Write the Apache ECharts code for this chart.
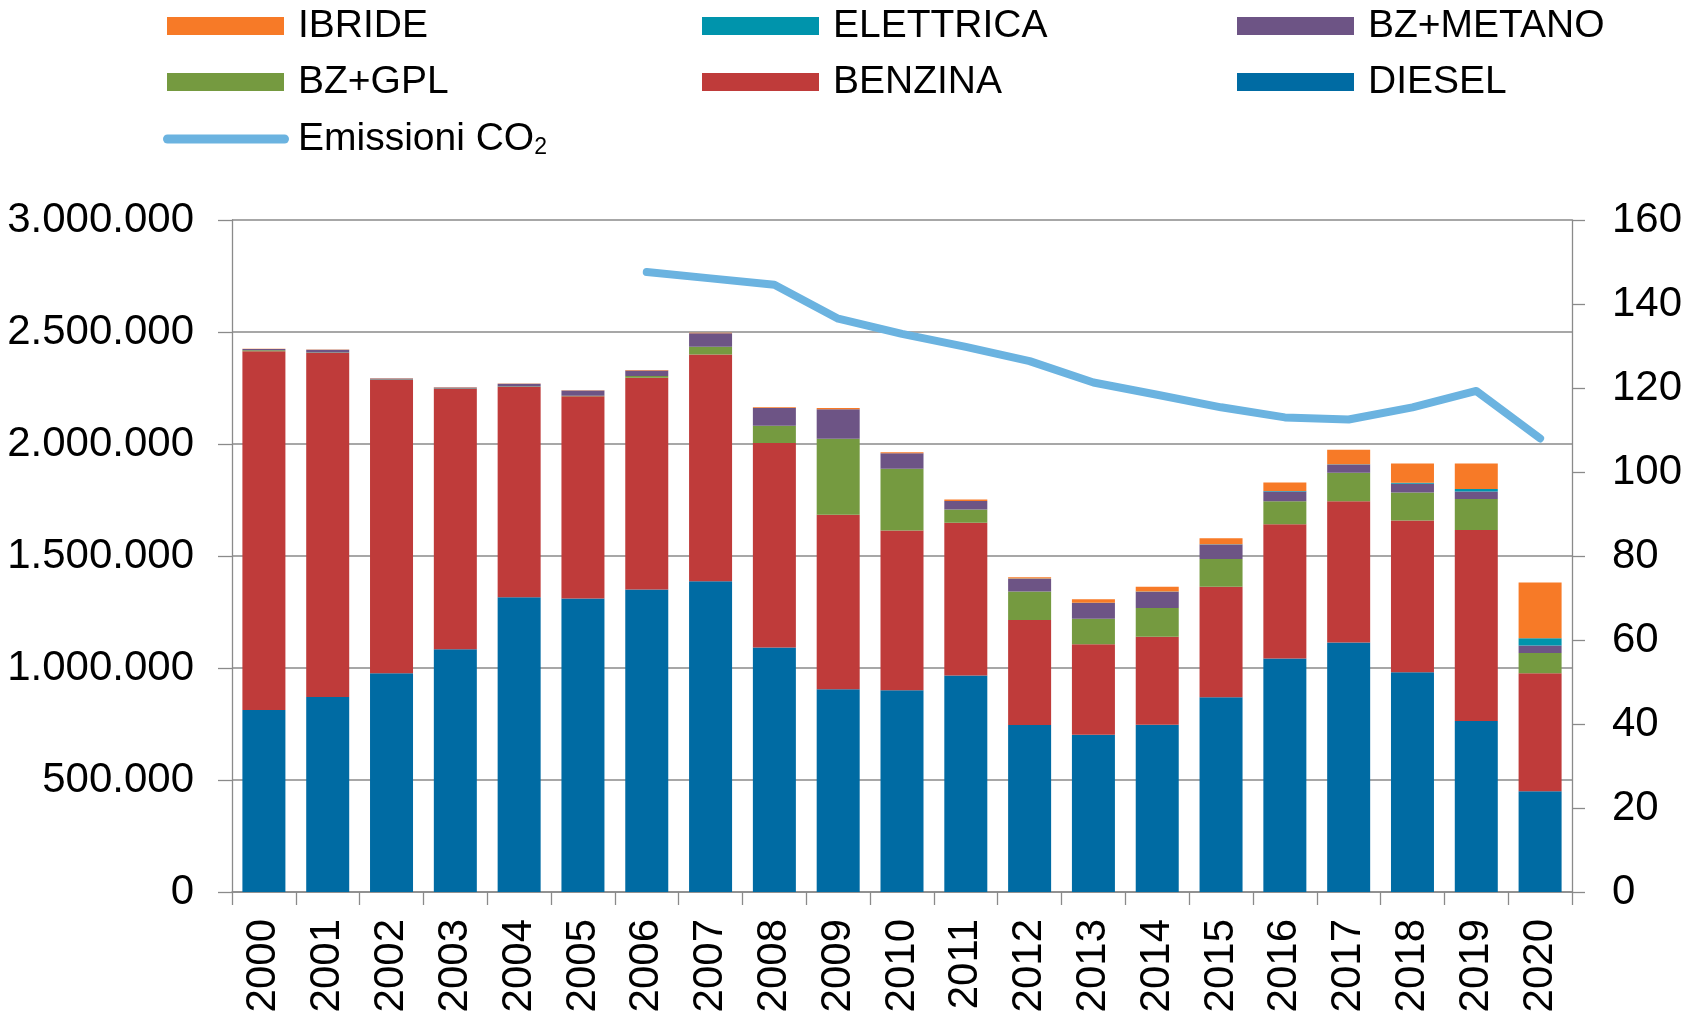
<!DOCTYPE html>
<html>
<head>
<meta charset="utf-8">
<script src="https://cdn.jsdelivr.net/npm/echarts@6/dist/echarts.min.js"></script>
<style>
html,body{margin:0;padding:0;background:#fff;}
#chart{width:1686px;height:1021px;}
</style>
</head>
<body>
<div id="chart"></div>
<script>
const years = ['2000','2001','2002','2003','2004','2005','2006','2007','2008','2009','2010','2011','2012','2013','2014','2015','2016','2017','2018','2019','2020'];
const diesel    = [813000,871000,977000,1084000,1316000,1310000,1351000,1387000,1092000,905000,901000,967000,745000,702000,747000,869000,1042000,1114000,981000,763000,450000];
const benzina   = [1601000,1535000,1309000,1162000,938000,903000,945000,1013000,913000,779000,713000,681000,469000,404000,393000,494000,600000,630000,677000,853000,527000];
const bzGpl     = [5000,2000,2000,2000,3000,2000,8000,34000,76000,339000,275000,60000,128000,114000,128000,124000,102000,128000,126000,138000,90000];
const bzMetano  = [5000,13000,4000,4000,12000,24000,24000,60000,80000,132000,70000,38000,56000,70000,72000,64000,44000,36000,38000,34000,34000];
const elettrica = [0,0,0,0,0,0,0,0,0,0,0,0,1000,1000,1000,2000,2000,2000,5000,11000,32000];
const ibride    = [1000,1000,1000,1000,1000,1000,2000,3000,3000,6000,4000,6000,6000,16000,22000,26000,38000,64000,86000,114000,249000];
const co2       = [null,null,null,null,null,null,147.6,146.1,144.6,136.5,132.9,129.8,126.4,121.3,118.4,115.4,113.0,112.5,115.4,119.3,108.0];
const leftTicks = {min:0, max:3000000, interval:500000};
const rightTicks = {min:0, max:160, interval:20};

const FONT = '"Liberation Sans", Arial, sans-serif';
const gray = '#8a8a8a';
const CO2_NAME = 'Emissioni CO₂';
const colors = {
  'IBRIDE':'#F77A27', 'ELETTRICA':'#0094AC', 'BZ+METANO':'#6D5485',
  'BZ+GPL':'#759A40', 'BENZINA':'#BF3B3A', 'DIESEL':'#006BA3'
};
colors[CO2_NAME] = '#6BB3E0';
function fmtIt(v){ return String(v).replace(/\B(?=(\d{3})+(?!\d))/g,'.'); }

function barSeries(name, data){
  return {name, type:'bar', stack:'tot', data, barWidth:43,
    itemStyle:{color:colors[name]}, emphasis:{disabled:true}};
}

const legendSpec = [
  ['IBRIDE',167,6],['ELETTRICA',702,6],['BZ+METANO',1237,6],
  ['BZ+GPL',167,62],['BENZINA',702,62],['DIESEL',1237,62]
];
const legends = legendSpec.map(([n,x,y]) => ({
  data:[n], left:x, top:y, padding:0, itemWidth:117, itemHeight:18,
  icon:'rect', selectedMode:false,
  textStyle:{fontFamily:FONT, fontSize:39, color:'#000', lineHeight:40, padding:[0,0,0,9]}
}));
legends.push({
  data:[CO2_NAME], left:163, top:119, padding:0, itemWidth:126, itemHeight:9,
  icon:'path://M4.5,0 L121.5,0 A4.5,4.5 0 0 1 121.5,9 L4.5,9 A4.5,4.5 0 0 1 4.5,0 Z',
  selectedMode:false,
  formatter: () => '{m|Emissioni CO}{s|2}',
  textStyle:{fontFamily:FONT, fontSize:39, color:'#000', lineHeight:40, padding:[0,0,0,4],
    rich:{
      m:{fontFamily:FONT, fontSize:39, color:'#000', lineHeight:40},
      s:{fontFamily:FONT, fontSize:23, color:'#000', lineHeight:22, verticalAlign:'bottom'}
    }}
});

const chart = echarts.init(document.getElementById('chart'));
chart.setOption({
  animation:false,
  backgroundColor:'#fff',
  legend: legends,
  grid:{left:232, right:114, top:220, bottom:129, containLabel:false},
  xAxis:{
    type:'category', data:years, boundaryGap:true,
    axisLine:{lineStyle:{color:gray, width:1.5}},
    axisTick:{show:true, length:13, lineStyle:{color:gray, width:1.3}},
    axisLabel:{rotate:90, margin:27, fontFamily:FONT, fontSize:42, color:'#000'}
  },
  yAxis:[
    {type:'value', min:leftTicks.min, max:leftTicks.max, interval:leftTicks.interval, position:'left',
     axisLine:{show:true, lineStyle:{color:gray, width:1.3}},
     axisTick:{show:true, length:14, lineStyle:{color:gray, width:1.3}},
     splitLine:{show:true, lineStyle:{color:gray, width:1.5}},
     axisLabel:{margin:38, fontFamily:FONT, fontSize:42, color:'#000', formatter:fmtIt}},
    {type:'value', min:rightTicks.min, max:rightTicks.max, interval:rightTicks.interval, position:'right',
     axisLine:{show:true, lineStyle:{color:gray, width:1.3}},
     axisTick:{show:true, length:13, lineStyle:{color:gray, width:1.3}},
     splitLine:{show:false},
     axisLabel:{margin:40, fontFamily:FONT, fontSize:42, color:'#000'}}
  ],
  series:[
    barSeries('DIESEL', diesel),
    barSeries('BENZINA', benzina),
    barSeries('BZ+GPL', bzGpl),
    barSeries('BZ+METANO', bzMetano),
    barSeries('ELETTRICA', elettrica),
    barSeries('IBRIDE', ibride),
    {name:CO2_NAME, type:'line', yAxisIndex:1, data:co2, symbol:'none', z:10,
     itemStyle:{color:colors[CO2_NAME]},
     lineStyle:{color:colors[CO2_NAME], width:8, cap:'round', join:'round'},
     emphasis:{disabled:true}}
  ]
});
</script>
</body>
</html>
